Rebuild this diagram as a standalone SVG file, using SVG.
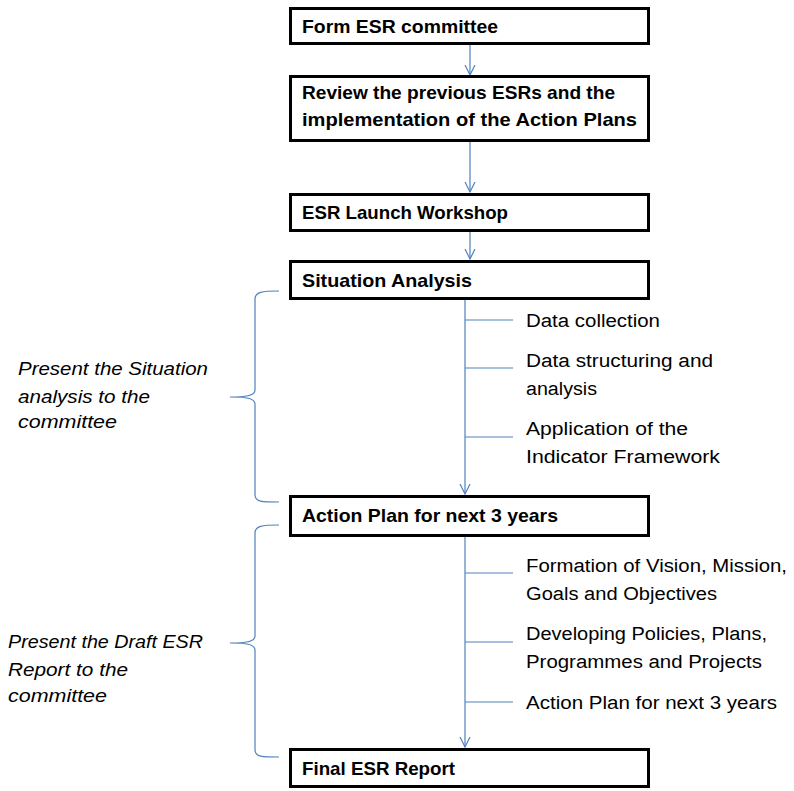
<svg xmlns="http://www.w3.org/2000/svg" width="794" height="791" viewBox="0 0 794 791">
<style>
.box{fill:#fff;stroke:#000;stroke-width:3}
.bt{font-family:"Liberation Sans",Arial,sans-serif;font-weight:bold;font-size:18.5px;fill:#000}
.rt{font-family:"Liberation Sans",Arial,sans-serif;font-size:18px;fill:#000}
.lt{font-family:"Liberation Sans",Arial,sans-serif;font-style:italic;font-size:18px;fill:#000}
.c{fill:none;stroke:#4F81BD;stroke-width:1.2}
</style>
<defs>
<marker id="ah" markerWidth="12" markerHeight="12" refX="10" refY="6" orient="auto" markerUnits="userSpaceOnUse" viewBox="0 0 12 12">
<path d="M0,1 L10,6 L0,11" fill="none" stroke="#4F81BD" stroke-width="1.2"/>
</marker>
</defs>
<g id="connectors">
<path class="c" d="M470,45 V75" marker-end="url(#ah)"/>
<path class="c" d="M470,142 V192" marker-end="url(#ah)"/>
<path class="c" d="M470,232 V259" marker-end="url(#ah)"/>
<path class="c" d="M465,300 V494" marker-end="url(#ah)"/>
<path class="c" d="M465,537 V747" marker-end="url(#ah)"/>
<path class="c" d="M465,320 H513 M465,368 H513 M465,437 H513"/>
<path class="c" d="M465,573 H513 M465,642 H513 M465,702 H513"/>
<path class="c" d="M279,291 C262,291 255,292 255,299 V390 C255,396 245,397 230,397 C245,397 255,398 255,404 V495 C255,502 262,502 279,502"/>
<path class="c" d="M279,525 C262,525 255,526 255,533 V636 C255,642 245,643 230,643 C245,643 255,644 255,650 V750 C255,757 262,757 279,757"/>
</g>
<g id="n1"><rect class="box" x="290.5" y="8.5" width="358" height="35"/><text class="bt" x="302" y="33" textLength="196" lengthAdjust="spacingAndGlyphs">Form ESR committee</text></g>
<g id="n2"><rect class="box" x="290.5" y="76.5" width="358" height="64"/><text class="bt" x="302" y="99" textLength="313" lengthAdjust="spacingAndGlyphs">Review the previous ESRs and the</text><text class="bt" x="302" y="126" textLength="335" lengthAdjust="spacingAndGlyphs">implementation of the Action Plans</text></g>
<g id="n3"><rect class="box" x="290.5" y="194.5" width="358" height="36"/><text class="bt" x="302" y="219" textLength="206" lengthAdjust="spacingAndGlyphs">ESR Launch Workshop</text></g>
<g id="n4"><rect class="box" x="290.5" y="261.5" width="358" height="37"/><text class="bt" x="302" y="287" textLength="170" lengthAdjust="spacingAndGlyphs">Situation Analysis</text></g>
<g id="n5"><rect class="box" x="290.5" y="496.5" width="358" height="39"/><text class="bt" x="302" y="522" textLength="256" lengthAdjust="spacingAndGlyphs">Action Plan for next 3 years</text></g>
<g id="n6"><rect class="box" x="290.5" y="749.5" width="358" height="37"/><text class="bt" x="302" y="775" textLength="153" lengthAdjust="spacingAndGlyphs">Final ESR Report</text></g>
<g id="sub1">
<text class="rt" x="526" y="327" textLength="134" lengthAdjust="spacingAndGlyphs">Data collection</text>
<text class="rt" x="526" y="367" textLength="187" lengthAdjust="spacingAndGlyphs">Data structuring and</text>
<text class="rt" x="526" y="395" textLength="71" lengthAdjust="spacingAndGlyphs">analysis</text>
<text class="rt" x="526" y="435" textLength="162" lengthAdjust="spacingAndGlyphs">Application of the</text>
<text class="rt" x="526" y="463" textLength="194" lengthAdjust="spacingAndGlyphs">Indicator Framework</text>
</g>
<g id="sub2">
<text class="rt" x="526" y="572" textLength="261" lengthAdjust="spacingAndGlyphs">Formation of Vision, Mission,</text>
<text class="rt" x="526" y="600" textLength="191" lengthAdjust="spacingAndGlyphs">Goals and Objectives</text>
<text class="rt" x="526" y="640" textLength="241" lengthAdjust="spacingAndGlyphs">Developing Policies, Plans,</text>
<text class="rt" x="526" y="668" textLength="236" lengthAdjust="spacingAndGlyphs">Programmes and Projects</text>
<text class="rt" x="526" y="709" textLength="251" lengthAdjust="spacingAndGlyphs">Action Plan for next 3 years</text>
</g>
<g id="note1">
<text class="lt" x="18" y="375" textLength="190" lengthAdjust="spacingAndGlyphs">Present the Situation</text>
<text class="lt" x="18" y="403" textLength="132" lengthAdjust="spacingAndGlyphs">analysis to the</text>
<text class="lt" x="18" y="428" textLength="99" lengthAdjust="spacingAndGlyphs">committee</text>
</g>
<g id="note2">
<text class="lt" x="8" y="648" textLength="195" lengthAdjust="spacingAndGlyphs">Present the Draft ESR</text>
<text class="lt" x="8" y="676" textLength="120" lengthAdjust="spacingAndGlyphs">Report to the</text>
<text class="lt" x="8" y="702" textLength="99" lengthAdjust="spacingAndGlyphs">committee</text>
</g>
</svg>
